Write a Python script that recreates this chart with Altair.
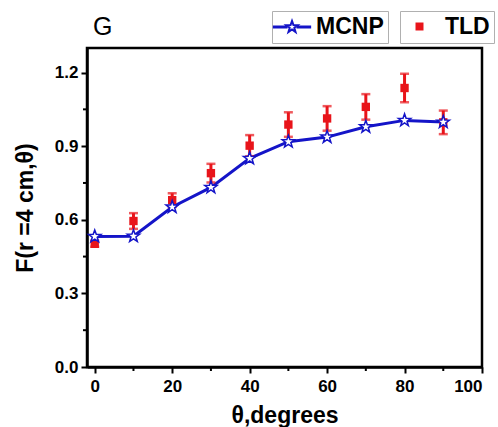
import altair as alt
import pandas as pd

angles = [0, 10, 20, 30, 40, 50, 60, 70, 80, 90]
mcnp = [0.532, 0.533, 0.652, 0.732, 0.850, 0.918, 0.937, 0.979, 1.005, 0.998]
tld = [0.502, 0.595, 0.680, 0.790, 0.902, 0.988, 1.013, 1.060, 1.137, 0.997]
tld_err = [0.012, 0.032, 0.028, 0.038, 0.043, 0.050, 0.050, 0.052, 0.058, 0.048]
x_major = [0, 20, 40, 60, 80, 100]
y_major = [0.0, 0.3, 0.6, 0.9, 1.2]
x_minor = [10, 30, 50, 70, 90]
y_minor = [0.15, 0.45, 0.75, 1.05]
panel_label = ["G"]

W, H = 395, 319
FONT = "Liberation Sans"
BLUE = "#1414c8"
RED = "#e8141a"

df = pd.DataFrame({
    "theta": angles, "mcnp": mcnp, "tld": tld,
    "lo": [v - e for v, e in zip(tld, tld_err)],
    "hi": [v + e for v, e in zip(tld, tld_err)],
    "s1": ["MCNP"] * len(angles), "s2": ["TLD"] * len(angles),
})

STAR = ("M0,-1L0.235,-0.324L0.951,-0.309L0.380,0.124L0.588,0.809L0,0.4"
        "L-0.588,0.809L-0.380,0.124L-0.951,-0.309L-0.235,-0.324Z")
LEG_STAR = ("M-1.65,-0.04L-0.5,-0.04L-0.5,0.04L-1.65,0.04Z"
            "M0.5,-0.04L1.65,-0.04L1.65,0.04L0.5,0.04Z"
            "M0,-0.55L0.13,-0.18L0.52,-0.17L0.21,0.07L0.32,0.45L0,0.22"
            "L-0.32,0.45L-0.21,0.07L-0.52,-0.17L-0.13,-0.18Z")

xs = alt.Scale(domain=[-2, 100], nice=False, zero=False)
ys = alt.Scale(domain=[0, 1.3], nice=False)

xax = alt.Axis(values=x_major, title="θ,degrees", grid=False)
yax = alt.Axis(values=y_major, format=".1f", title="F(r =4 cm,θ)", grid=False)

base = alt.Chart(df)

legend_common = dict(orient="none", title=None, labelFont=FONT, labelFontSize=23,
                     labelFontWeight="bold", labelColor="black", strokeColor="#b0b0b0",
                     padding=4)

line = base.mark_line(strokeWidth=3).encode(
    x=alt.X("theta:Q", scale=xs, axis=xax),
    y=alt.Y("mcnp:Q", scale=ys, axis=yax),
    stroke=alt.Stroke("s1:N", scale=alt.Scale(domain=["MCNP"], range=[BLUE]),
                      legend=alt.Legend(legendX=185, legendY=-37, symbolType=LEG_STAR,
                                        symbolSize=484, symbolStrokeWidth=2,
                                        symbolFillColor="white", symbolOffset=4,
                                        labelOffset=12, **legend_common)),
)

err = base.mark_rule(color=RED, strokeWidth=3).encode(
    x="theta:Q", y="lo:Q", y2="hi:Q")
caps_hi = base.mark_tick(color=RED, thickness=2.5, size=9, orient="horizontal").encode(
    x="theta:Q", y="hi:Q")
caps_lo = base.mark_tick(color=RED, thickness=2.5, size=9, orient="horizontal").encode(
    x="theta:Q", y="lo:Q")

squares = base.mark_square(size=70, opacity=1).encode(
    x="theta:Q", y="tld:Q",
    color=alt.Color("s2:N", scale=alt.Scale(domain=["TLD"], range=[RED]),
                    legend=alt.Legend(legendX=313, legendY=-37, symbolType="square",
                                      symbolSize=64, symbolOffset=4, labelOffset=14,
                                      **legend_common)),
)

stars = base.mark_point(shape=STAR, size=170, filled=True, fill="white",
                        stroke=BLUE, strokeWidth=1.5, opacity=1).encode(
    x="theta:Q", y="mcnp:Q")

xminor = alt.Chart(pd.DataFrame({"m": x_minor})).mark_rule(
    color="black", strokeWidth=2, clip=False).encode(
    x="m:Q", y=alt.value(H), y2=alt.value(H + 4))
yminor = alt.Chart(pd.DataFrame({"m": y_minor})).mark_rule(
    color="black", strokeWidth=2, clip=False).encode(
    y="m:Q", x=alt.value(0), x2=alt.value(-4))

glabel = alt.Chart(pd.DataFrame({"t": panel_label})).mark_text(
    font=FONT, fontSize=25, color="black", align="left", baseline="alphabetic",
    clip=False).encode(text="t:N", x=alt.value(6), y=alt.value(-13))

chart = alt.layer(line, err, caps_hi, caps_lo, squares, stars, xminor, yminor, glabel).properties(
    width=W, height=H,
    autosize=alt.AutoSizeParams(type="none"),
    padding={"left": 87, "top": 48, "right": 16, "bottom": 60},
).configure_view(stroke="black", strokeWidth=2.5).configure_axis(
    domainColor="black", domainWidth=2.5, tickColor="black", tickWidth=2, tickSize=6,
    labelFont=FONT, labelFontSize=17, labelFontWeight="bold", labelColor="black",
    titleFont=FONT, titleFontSize=23, titleFontWeight="bold", titleColor="black",
).configure_axisY(titlePadding=17, labelPadding=3).configure_axisX(titlePadding=10, labelPadding=5)

chart.save("out.html", embed_options={"renderer": "svg", "actions": False})
